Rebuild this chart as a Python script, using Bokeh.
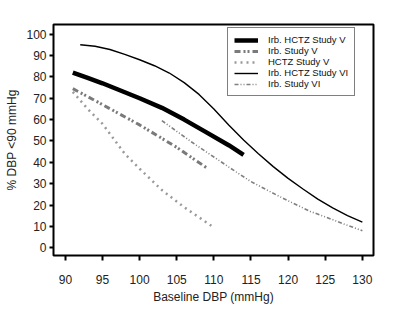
from bokeh.plotting import figure
from bokeh.models import Legend, LegendItem, FixedTicker, Range1d
from bokeh.embed import file_html
from bokeh.resources import INLINE

# ---- data ----
irb_hctz_v_x = [91, 93, 95, 97, 100, 103, 106, 109, 112, 114]
irb_hctz_v_y = [82, 79.5, 77, 74.2, 70, 65.5, 60, 54, 48, 43.5]

irb_v_x = [91, 95, 100, 105, 109]
irb_v_y = [74.5, 67, 57.5, 47, 37.5]

hctz_v_x = [91, 93, 95, 98, 100, 103, 106, 110]
hctz_v_y = [73, 65, 58, 44, 37, 27, 19, 9.5]

irb_hctz_vi_x = [92, 94, 96, 98, 100, 102, 104, 106, 108, 110, 112, 114, 116,
                 118, 120, 122, 124, 126, 128, 130]
irb_hctz_vi_y = [95, 94.3, 92.8, 90.5, 88, 85.2, 81.8, 77.3, 71.8, 65, 57.5, 50.5, 44,
                 38, 32.5, 27.5, 22.8, 18.7, 15.1, 12]

irb_vi_x = [103, 105, 107, 110, 113, 115, 118, 120, 123, 125, 128, 130]
irb_vi_y = [59.5, 54.5, 49.5, 42.5, 35.5, 31, 25.5, 22, 17, 14.5, 10.5, 8]

x_ticks = [90, 95, 100, 105, 110, 115, 120, 125, 130]
y_ticks = [0, 10, 20, 30, 40, 50, 60, 70, 80, 90, 100]

FONT = "Liberation Sans"

p = figure(width=400, height=310, output_backend="svg", toolbar_location=None,
           x_range=Range1d(88.4, 131.5), y_range=Range1d(-3.6, 104.5),
           min_border_left=53, min_border_right=27, min_border_top=24,
           min_border_bottom=55)
p.background_fill_color = "white"
p.border_fill_color = "white"
p.outline_line_color = "black"
p.outline_line_width = 2
p.grid.visible = False

r1 = p.line(irb_hctz_v_x, irb_hctz_v_y, line_color="black", line_width=4.5)
r2 = p.line(irb_v_x, irb_v_y, line_color="#7a7a7a", line_width=3,
            line_dash="6 3 2 2 2 3")
r3 = p.line(hctz_v_x, hctz_v_y, line_color="#9a9a9a", line_width=2.5,
            line_dash="2 4")
r4 = p.line(irb_hctz_vi_x, irb_hctz_vi_y, line_color="black", line_width=1.4,
            line_join="round")
r5 = p.line(irb_vi_x, irb_vi_y, line_color="#808080", line_width=1.6,
            line_dash="4 2 1 2 1 2")

for ax in (p.xaxis[0], p.yaxis[0]):
    ax.axis_line_color = None
    ax.major_tick_in = 0
    ax.minor_tick_line_color = None
    ax.major_tick_line_color = "black"
    ax.major_tick_line_width = 2
    ax.major_label_text_font = FONT
    ax.major_label_text_font_size = "12px"
    ax.major_label_text_color = "#222222"
    ax.axis_label_text_font = FONT
    ax.axis_label_text_font_size = "12px"
    ax.axis_label_text_font_style = "normal"
    ax.axis_label_text_color = "#222222"

p.xaxis[0].ticker = FixedTicker(ticks=x_ticks)
p.yaxis[0].ticker = FixedTicker(ticks=y_ticks)
p.xaxis[0].major_tick_out = 5
p.xaxis[0].major_label_standoff = 14
p.xaxis[0].axis_label = "Baseline DBP (mmHg)"
p.xaxis[0].axis_label_standoff = 3
p.yaxis[0].major_tick_out = 4
p.yaxis[0].major_label_standoff = 3
p.yaxis[0].axis_label = "% DBP <90 mmHg"
p.yaxis[0].axis_label_standoff = 4

legend = Legend(items=[
    LegendItem(label="Irb. HCTZ Study V", renderers=[r1]),
    LegendItem(label="Irb. Study V", renderers=[r2]),
    LegendItem(label="HCTZ Study V", renderers=[r3]),
    LegendItem(label="Irb. HCTZ Study VI", renderers=[r4]),
    LegendItem(label="Irb. Study VI", renderers=[r5]),
], location=(174, 159))
legend.border_line_color = "black"
legend.border_line_width = 1.5
legend.background_fill_alpha = 1
legend.padding = 6
legend.spacing = 0
legend.margin = 0
legend.glyph_width = 24
legend.glyph_height = 10
legend.label_height = 10
legend.label_standoff = 10
legend.label_text_font = FONT
legend.label_text_font_size = "9.5px"
legend.label_text_color = "#111111"
p.add_layout(legend)

open("out.html", "w").write(file_html(p, INLINE))
